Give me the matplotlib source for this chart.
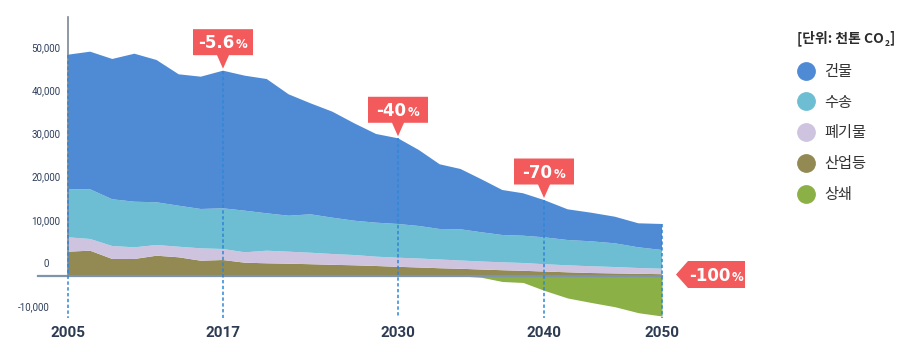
import numpy as np
import matplotlib
matplotlib.use('Agg')
import matplotlib.pyplot as plt
import matplotlib.transforms as mtransforms
from matplotlib.patches import Polygon
from matplotlib.lines import Line2D

# ---------------- data (thousand t CO2) ----------------
points = np.arange(28)
buildings = [31160, 31860, 32480, 34260, 32940, 30420, 30630, 31860, 31250, 31090,
             28100, 25700, 24540, 22550, 20530, 19840, 17590, 14980, 13960, 12270,
             10420, 9820, 8630, 7110, 6620, 6160, 5560, 6020]
transport = [11110, 11500, 10820, 10560, 9880, 9490, 9100, 9420, 9630, 8650,
             8330, 8890, 8410, 7940, 7870, 7800, 7530, 7060, 7220, 6760,
             6320, 6320, 6230, 5850, 5780, 5490, 4790, 4330]
waste = [3330, 2710, 3000, 2700, 2480, 2450, 2870, 2550, 2410, 2920,
         2780, 2660, 2500, 2380, 2160, 2110, 2080, 2020, 1920, 1860,
         1830, 1810, 1690, 1620, 1560, 1480, 1340, 1270]
industry = [5630, 5860, 3940, 3940, 4700, 4330, 3540, 3700, 3080, 2940,
            2850, 2730, 2590, 2480, 2315, 2130, 1970, 1800, 1670, 1500,
            1340, 1200, 1040, 860, 690, 600, 510, 420]
offset = [0, 0, 0, 0, 0, 0, 0, 0, 0, 0,
          0, 0, 0, 0, 0, 0, 0, 0, 0, -300,
          -1270, -1500, -3310, -5090, -6130, -7110, -8500, -9260]

series_names = ['건물', '수송', '폐기물', '산업등', '상쇄']
year_ticks = [0, 7, 15, 22, 27]
year_labels = ['2005', '2017', '2030', '2040', '2050']
y_ticks = [-10000, 0, 10000, 20000, 30000, 40000, 50000]
y_tick_labels = ['-10,000', '0', '10,000', '20,000', '30,000', '40,000', '50,000']
callout_points = [7, 15, 22]
callout_texts = ['-5.6', '-40', '-70']
final_text = '-100'
unit_title = '[단위: 천톤 CO'
unit_sub = '2'

# ---------------- style ----------------
c_build = '#4f8bd4'
c_trans = '#6dbdd3'
c_waste = '#cfc4e0'
c_ind = '#928a52'
c_off = '#8bb045'
c_red = '#f25a5c'
c_dash = '#2f86d6'
c_text = '#2d3c52'
series_colors = [c_build, c_trans, c_waste, c_ind, c_off]

W, H = 897, 358
fig = plt.figure(figsize=(W / 100, H / 100), dpi=100)
ax = fig.add_axes([68 / W, (H - 322) / H, (662 - 68) / W, (322 - 17) / H])

# piecewise axis scale (the original's year spacing is not uniform)
anchor_idx = [-1000, 0, 7, 15, 22, 27, 1027]
anchor_px = [68 - 1000 * 22.14, 68, 223, 398, 544, 662, 662 + 1000 * 23.6]
fwd = lambda x: np.interp(x, anchor_idx, anchor_px)
inv = lambda p: np.interp(p, anchor_px, anchor_idx)
ax.set_xscale('function', functions=(fwd, inv))
ax.set_xlim(0, 27)
ax.set_ylim(-10648, 59954)

ax.stackplot(points, industry, waste, transport, buildings,
             colors=[c_ind, c_waste, c_trans, c_build], lw=0, zorder=2)
ax.fill_between(points, 0, offset, color=c_off, lw=0, zorder=2)

total = np.array(buildings) + np.array(transport) + np.array(waste) + np.array(industry)

for s in ax.spines.values():
    s.set_visible(False)

# axis lines
ax.plot([0, 0], [0, 59954], color='#7b8795', lw=1.2, zorder=3, clip_on=False)
ax.plot([inv(38), 27], [0, 0], color='#7f93ab', lw=1.6, zorder=4, clip_on=False)

# dashed year guides
for i in year_ticks:
    ax.plot([i, i], [total[i], -9722], color=c_dash, lw=1.1,
            ls=(0, (2.2, 1.6)), zorder=5, clip_on=False)

# ticks
ax.set_xticks(year_ticks, year_labels)
ax.tick_params(axis='x', length=0, pad=3, labelsize=11, labelcolor=c_text)
for lbl in ax.get_xticklabels():
    lbl.set_fontfamily('Roboto')
    lbl.set_fontweight('bold')
ax.set_yticks([])
for v, t in zip(y_ticks, y_tick_labels):
    dx = -22 if v != -10000 else -34
    ax.annotate(t, xy=(0, v), xycoords=('axes fraction', 'data'),
                xytext=(dx * 0.72, 12 * 0.72), textcoords='offset points',
                ha='center', va='center', fontsize=7, family='Roboto',
                color='#2e3f5c')

renderer = fig.canvas.get_renderer()


def label_in_box(xi, yv, cx_in, cy_in, text):
    # number + smaller percent sign centred at (cx_in, cy_in) inches from anchor
    base = (cy_in * 72) - 4.4
    n = ax.annotate(text, xy=(xi, yv), xycoords='data', xytext=(0, base),
                    textcoords='offset points', ha='right', va='baseline',
                    fontsize=12, fontweight='bold', family='DejaVu Sans',
                    color='white', zorder=11, annotation_clip=False)
    p = ax.annotate('%', xy=(xi, yv), xycoords='data', xytext=(0, base),
                    textcoords='offset points', ha='left', va='baseline',
                    fontsize=8.5, fontweight='bold', family='DejaVu Sans',
                    color='white', zorder=11, annotation_clip=False)
    wn = n.get_window_extent(renderer).width * 0.72
    wp = p.get_window_extent(renderer).width * 0.72
    s = cx_in * 72 + (wn - wp) / 2 - 0.5
    n.set_position((s, base))
    p.set_position((s + 0.5, base))


for i, t in zip(callout_points, callout_texts):
    tr = fig.dpi_scale_trans + mtransforms.ScaledTranslation(i, total[i], ax.transData)
    verts = [(0, 0.02), (0.06, 0.155), (0.30, 0.155), (0.30, 0.415),
             (-0.30, 0.415), (-0.30, 0.155), (-0.06, 0.155)]
    ax.add_patch(Polygon(verts, closed=True, transform=tr, facecolor=c_red,
                         edgecolor='none', zorder=10, clip_on=False))
    label_in_box(i, total[i], 0, 0.285, t)

# final -100% tag pointing left
tr = fig.dpi_scale_trans + mtransforms.ScaledTranslation(27, 0, ax.transData)
verts = [(0.14, 0.015), (0.26, 0.15), (0.83, 0.15), (0.83, -0.12), (0.26, -0.12)]
ax.add_patch(Polygon(verts, closed=True, transform=tr, facecolor=c_red,
                     edgecolor='none', zorder=10, clip_on=False))
label_in_box(27, 0, 0.545, 0.015, final_text)

# legend
handles = [Line2D([], [], ls='', marker='o', markersize=12.5,
                  markerfacecolor=c, markeredgecolor=c) for c in series_colors]
fig.legend(handles, series_names, loc='upper left',
           bbox_to_anchor=(798 / W, 1 - 63 / H), frameon=False,
           prop={'family': ['Noto Sans CJK KR', 'DejaVu Sans'], 'size': 11},
           handlelength=1.1, handletextpad=0.6, labelspacing=0.9,
           borderpad=0, borderaxespad=0, labelcolor='#333333')

# unit title with small lowered subscript
ut = fig.text(797 / W, 1 - 38 / H, unit_title, ha='left', va='center',
              fontsize=10, fontweight='bold', color='#2b2b2b',
              family=['Noto Sans CJK KR', 'DejaVu Sans'])
ext = ut.get_window_extent(renderer)
sub = fig.text((ext.x1 + 0.5) / W, 1 - 43 / H, unit_sub, ha='left', va='center',
               fontsize=6, fontweight='bold', color='#2b2b2b',
               family=['Noto Sans CJK KR', 'DejaVu Sans'])
ext2 = sub.get_window_extent(renderer)
fig.text((ext2.x1 + 0.5) / W, 1 - 38 / H, ']', ha='left', va='center',
         fontsize=10, fontweight='bold', color='#2b2b2b',
         family=['Noto Sans CJK KR', 'DejaVu Sans'])

fig.savefig('out.png', dpi=100)
